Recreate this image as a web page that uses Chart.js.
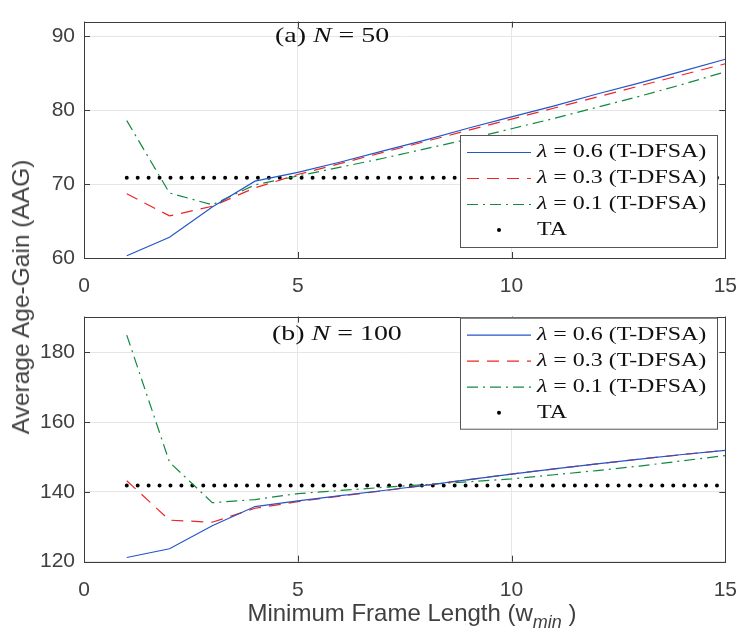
<!DOCTYPE html>
<html>
<head>
<meta charset="utf-8">
<script src="https://cdn.jsdelivr.net/npm/chart.js@4.4.1/dist/chart.umd.min.js"></script>
<style>
  body { margin: 0; background: #fff; }
  #wrap { position: relative; width: 753px; height: 637px; background: #fff; overflow: hidden; }
  canvas { position: absolute; left: 0; }
  .lab { position: absolute; font-family: Arial, "Liberation Sans", sans-serif; color: #404040; white-space: nowrap; }
  .note { position: absolute; font-family: "Liberation Serif", serif; font-size: 21px; color: #111; white-space: nowrap; line-height: 1; transform: scaleX(1.33); transform-origin: 0 0; }
</style>
</head>
<body>
<div id="wrap">
  <canvas id="chartA" width="753" height="295" style="top:0"></canvas>
  <canvas id="chartB" width="753" height="342" style="top:295px"></canvas>
  <div class="lab" id="yLabel" style="font-size:24.5px; left:21px; top:297px; transform: translate(-50%,-50%) rotate(-90deg);">Average Age-Gain (AAG)</div>
  <div class="lab" id="xLabel" style="font-size:24px; left:412px; top:616px; transform: translate(-50%,-50%);">Minimum Frame Length (w<sub style="font-style:italic; font-size:18px; vertical-align:-7px;">min</sub> )</div>
  <div class="note" style="left:275px; top:25px;">(a) <i>N</i> = 50</div>
  <div class="note" style="left:272px; top:323px;">(b) <i>N</i> = 100</div>
</div>
<script>
var wMin = [1, 2, 3, 4, 5, 6, 7, 8, 9, 10, 11, 12, 13, 14, 15];
var xTicks = [0, 5, 10, 15];

// (a) N = 50
var lam06A = [60.3, 62.8, 66.9, 70.4, 71.6, 73.0, 74.5, 76.0, 77.6, 79.1, 80.6, 82.2, 83.7, 85.3, 86.9];
var lam03A = [68.7, 65.7, 67.0, 69.5, 71.3, 72.8, 74.3, 75.8, 77.3, 78.8, 80.3, 81.8, 83.3, 84.8, 86.3];
var lam01A = [78.6, 68.8, 67.2, 69.9, 71.1, 72.3, 73.5, 74.8, 76.1, 77.5, 78.9, 80.4, 81.9, 83.5, 85.2];
var taXA = [1, 15];
var taA = [70.85, 70.85];
var yTicksA = [60, 70, 80, 90];

// (b) N = 100
var lam06B = [121.2, 123.7, 130.3, 135.8, 137.4, 138.9, 140.4, 141.9, 143.5, 145.1, 146.6, 148.0, 149.4, 150.7, 151.9];
var lam03B = [143.2, 131.9, 131.3, 135.3, 137.2, 138.8, 140.3, 141.9, 143.5, 145.1, 146.6, 148.0, 149.4, 150.7, 151.9];
var lam01B = [184.9, 148.5, 136.9, 137.8, 139.5, 140.4, 141.3, 142.1, 142.9, 143.7, 144.9, 146.1, 147.4, 148.9, 150.4];
var taXB = [1, 15];
var taB = [141.85, 141.85];
var yTicksB = [120, 140, 160, 180];

var labels = ['λ = 0.6 (T-DFSA)', 'λ = 0.3 (T-DFSA)', 'λ = 0.1 (T-DFSA)', 'TA'];
var colors = ['#2456c8', '#f02424', '#128a3e', '#000000'];

function pts(xv, yv) {
  return xv.map(function (x, i) { return { x: x, y: yv[i] }; });
}

function montarDatasets(l06, l03, l01, taX, ta) {
  return [
    { label: labels[0], data: pts(wMin, l06), borderColor: colors[0], borderWidth: 1.2, borderDash: [] },
    { label: labels[1], data: pts(wMin, l03), borderColor: colors[1], borderWidth: 1.2, borderDash: [12, 8] },
    { label: labels[2], data: pts(wMin, l01), borderColor: colors[2], borderWidth: 1.2, borderDash: [11, 5, 2, 5] },
    { label: labels[3], data: pts(taX, ta), borderColor: colors[3], borderWidth: 4, borderDash: [0, 10.93], borderCapStyle: 'round', isDots: true }
  ];
}

var caixaPlugin = {
  id: 'caixa',
  afterDraw: function (chart, args, opts) {
    var ctx = chart.ctx;
    var a = chart.chartArea;
    var sx = chart.scales.x, sy = chart.scales.y;
    ctx.save();
    ctx.strokeStyle = '#3c3c3c';
    ctx.lineWidth = 1;
    ctx.setLineDash([]);
    ctx.beginPath();
    sx.ticks.forEach(function (t) {
      var px = Math.round(sx.getPixelForValue(t.value)) + 0.5;
      ctx.moveTo(px, a.bottom); ctx.lineTo(px, a.bottom - 6);
      ctx.moveTo(px, a.top); ctx.lineTo(px, a.top + 6);
    });
    sy.ticks.forEach(function (t) {
      var py = Math.round(sy.getPixelForValue(t.value)) + 0.5;
      ctx.moveTo(a.left, py); ctx.lineTo(a.left + 6, py);
      ctx.moveTo(a.right, py); ctx.lineTo(a.right - 6, py);
    });
    ctx.stroke();
    ctx.strokeRect(Math.round(a.left) + 0.5, Math.round(a.top) + 0.5, Math.round(a.right - a.left), Math.round(a.bottom - a.top));

    // legenda
    var lx = opts.x, ly = opts.y;
    ctx.fillStyle = '#fff';
    ctx.fillRect(lx, ly, opts.w, opts.h);
    ctx.strokeStyle = '#555';
    ctx.strokeRect(lx + 0.5, ly + 0.5, opts.w, opts.h);
    chart.data.datasets.forEach(function (ds, i) {
      var ry = ly + 17 + i * 26;
      ctx.save();
      ctx.strokeStyle = ds.borderColor;
      ctx.fillStyle = ds.borderColor;
      if (ds.isDots) {
        ctx.beginPath();
        ctx.arc(lx + 39, ry, 2, 0, Math.PI * 2);
        ctx.fill();
      } else {
        ctx.lineWidth = ds.borderWidth;
        ctx.setLineDash(ds.borderDash);
        ctx.beginPath();
        ctx.moveTo(lx + 7, ry + 0.5);
        ctx.lineTo(lx + 71, ry + 0.5);
        ctx.stroke();
      }
      ctx.restore();
      ctx.save();
      ctx.translate(lx + 77, ry);
      ctx.scale(1.26, 1);
      ctx.fillStyle = '#111';
      ctx.textBaseline = 'middle';
      ctx.textAlign = 'left';
      var tx = 0;
      var txt = ds.label;
      if (txt.charAt(0) == 'λ') {
        ctx.font = 'italic 19px "Liberation Serif"';
        ctx.fillText('λ', tx, 0);
        tx += ctx.measureText('λ').width;
        txt = txt.substring(1);
      }
      ctx.font = '19px "Liberation Serif"';
      ctx.fillText(txt, tx, 0);
      ctx.restore();
    });
    ctx.restore();
  }
};

function gerarGrafico(id, datasets, yMin, yMax, yTicks, padTop, xHeight, legenda) {
  var ctx = document.getElementById(id).getContext('2d');
  return new Chart(ctx, {
    type: 'line',
    data: { datasets: datasets },
    options: {
      responsive: false,
      animation: false,
      maintainAspectRatio: false,
      layout: { padding: { top: padTop, right: 14, left: 0, bottom: 0 } },
      elements: { point: { radius: 0 }, line: { tension: 0, fill: false } },
      plugins: {
        legend: { display: false },
        tooltip: { enabled: false },
        caixa: legenda
      },
      scales: {
        x: {
          type: 'linear', min: 0, max: 15,
          afterBuildTicks: function (s) { s.ticks = xTicks.map(function (v) { return { value: v }; }); },
          afterFit: function (s) { s.height = xHeight; },
          grid: { color: '#e6e6e6', drawTicks: false },
          border: { display: false },
          ticks: { color: '#404040', font: { family: 'Arial', size: 21 }, padding: 16, maxRotation: 0 }
        },
        y: {
          type: 'linear', min: yMin, max: yMax,
          afterBuildTicks: function (s) { s.ticks = yTicks.map(function (v) { return { value: v }; }); },
          afterFit: function (s) { s.width = 84; },
          grid: { color: '#e6e6e6', drawTicks: false },
          border: { display: false },
          ticks: { color: '#404040', font: { family: 'Arial', size: 21 }, padding: 9 }
        }
      }
    },
    plugins: [caixaPlugin]
  });
}

gerarGrafico('chartA', montarDatasets(lam06A, lam03A, lam01A, taXA, taA), 60, 92, yTicksA, 6, 37,
  { x: 460, y: 135, w: 257, h: 112 });
gerarGrafico('chartB', montarDatasets(lam06B, lam03B, lam01B, taXB, taB), 120, 190.2, yTicksB, 14.3, 75.3,
  { x: 460, y: 22.7, w: 257, h: 111 });
</script>
</body>
</html>
